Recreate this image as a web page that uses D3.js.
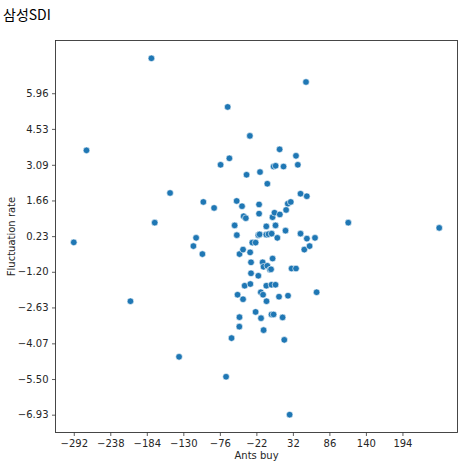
<!DOCTYPE html>
<html>
<head>
<meta charset="utf-8">
<script src="https://cdn.jsdelivr.net/npm/d3@7"></script>
<style>
  html, body { margin: 0; padding: 0; background: #fff; }
  svg { display: block; }
</style>
</head>
<body>
<svg id="chart" width="472" height="465"></svg>
<script>
const title = "삼성SDI";
const xLabel = "Ants buy";
const yLabel = "Fluctuation rate";

// Ants buy (x) values
const antsBuy = [
  -177.2, 51.4, -64.4, -31.6, -273.2, 12.4, 36.6, -61.9, -74.9, 3.5,
  6.5, 18.2, 39.3, -16.6, -36.5, -5.8, -149.6, 43.3, 52.6, -100.4,
  -51.1, -84.5, -43.2, -18.0, 24.5, 28.9, -40.8, -37.6, -18.0, 1.9,
  4.8, 12.7, 22.0, -172.3, -54.1, -7.3, 6.3, 113.9, 248.4, -50.9,
  -19.1, -17.2, -7.3, -4.0, 0.6, 21.1, 43.3, 9.0, 52.7, 64.7,
  -111.1, -292.0, -115.1, -28.0, -23.1, 48.9, 56.7, -101.8, -46.9, -41.7,
  -31.2, 2.0, -29.9, -12.7, -11.4, -5.8, -1.8, -0.3, 30.1, 36.6,
  -29.9, -19.1, -39.3, -30.9, -7.3, 0.4, 6.3, -49.8, -41.7, -15.4,
  -12.1, -7.0, 11.5, 24.8, 67.1, -208.2, -23.1, -15.1, 0.4, 3.5,
  16.8, -47.0, -47.2, -11.3, -58.7, 19.3, -136.3, -66.8, 27.2
];

// Fluctuation rate (y) values
const fluctuation = [
  7.36, 6.41, 5.41, 4.25, 3.67, 3.71, 3.45, 3.35, 3.09, 3.02,
  3.05, 3.02, 3.09, 2.80, 2.69, 2.33, 1.96, 1.93, 1.83, 1.60,
  1.64, 1.36, 1.43, 1.50, 1.53, 1.60, 1.03, 0.95, 1.13, 0.99,
  1.17, 1.10, 1.28, 0.77, 0.66, 0.62, 0.66, 0.77, 0.56, 0.27,
  0.27, 0.30, 0.29, 0.31, 0.33, 0.45, 0.33, 0.16, 0.13, 0.16,
  0.16, -0.02, -0.17, -0.03, -0.03, -0.31, -0.17, -0.49, -0.49, -0.31,
  -0.42, -0.67, -0.82, -0.82, -1.00, -0.96, -1.12, -1.10, -1.07, -1.07,
  -1.26, -1.36, -1.76, -1.69, -1.76, -1.72, -1.72, -2.12, -2.30, -2.02,
  -2.12, -2.38, -2.20, -2.16, -2.02, -2.38, -2.81, -3.06, -2.91, -2.91,
  -3.03, -3.02, -3.40, -3.54, -3.86, -3.93, -4.61, -5.41, -6.93
];

const xTicks = [-292, -238, -184, -130, -76, -22, 32, 86, 140, 194];
const yTicks = [5.96, 4.53, 3.09, 1.66, 0.23, -1.20, -2.63, -4.07, -5.50, -6.93];

const data = antsBuy.map((x, i) => ({ x, y: fluctuation[i] }));

const svg = d3.select("#chart");
const W = 472, H = 465;
const m = { left: 55.5, top: 40.5, right: 472 - 457.5, bottom: 465 - 432.5 };

const xExt = d3.extent(antsBuy);
const yExt = d3.extent(fluctuation);
const xPad = (xExt[1] - xExt[0]) * 0.05;
const yPad = (yExt[1] - yExt[0]) * 0.05;

const x = d3.scaleLinear()
  .domain([xExt[0] - xPad, xExt[1] + xPad])
  .range([m.left, W - m.right]);
const y = d3.scaleLinear()
  .domain([yExt[0] - yPad, yExt[1] + yPad])
  .range([H - m.bottom, m.top]);

const fmtMinus = s => String(s).replace("-", "\u2212");

// Title
svg.append("text")
  .attr("x", 3)
  .attr("y", 20)
  .attr("font-family", "'Noto Sans CJK KR', 'Noto Sans', sans-serif")
  .attr("font-size", 14)
  .attr("fill", "#000")
  .text(title);

// X axis
const xAxis = svg.append("g")
  .attr("transform", `translate(0,${H - m.bottom})`)
  .call(d3.axisBottom(x).tickValues(xTicks).tickSize(3.5).tickPadding(3.5)
    .tickFormat(d => fmtMinus(d)));
xAxis.select(".domain").remove();
xAxis.selectAll("text").attr("font-family", "'DejaVu Sans', sans-serif").attr("font-size", 10).attr("fill", "#262626");
xAxis.selectAll("line").attr("stroke", "#333").attr("stroke-width", 0.8);

// Y axis
const yAxis = svg.append("g")
  .attr("transform", `translate(${m.left},0)`)
  .call(d3.axisLeft(y).tickValues(yTicks).tickSize(3.5).tickPadding(3.5)
    .tickFormat(d => fmtMinus(d.toFixed(2))));
yAxis.select(".domain").remove();
yAxis.selectAll("text").attr("font-family", "'DejaVu Sans', sans-serif").attr("font-size", 10).attr("fill", "#262626");
yAxis.selectAll("line").attr("stroke", "#333").attr("stroke-width", 0.8);

// Frame
svg.append("rect")
  .attr("x", m.left)
  .attr("y", m.top)
  .attr("width", W - m.left - m.right)
  .attr("height", H - m.top - m.bottom)
  .attr("fill", "none")
  .attr("stroke", "#333")
  .attr("stroke-width", 0.9);

// Axis labels
svg.append("text")
  .attr("x", (m.left + W - m.right) / 2)
  .attr("y", 459)
  .attr("text-anchor", "middle")
  .attr("font-family", "'DejaVu Sans', sans-serif")
  .attr("font-size", 10)
  .attr("fill", "#262626")
  .text(xLabel);

svg.append("text")
  .attr("transform", `translate(15,${(m.top + H - m.bottom) / 2}) rotate(-90)`)
  .attr("text-anchor", "middle")
  .attr("font-family", "'DejaVu Sans', sans-serif")
  .attr("font-size", 10)
  .attr("fill", "#262626")
  .text(yLabel);

// Points
svg.append("g")
  .selectAll("circle")
  .data(data)
  .join("circle")
  .attr("cx", d => x(d.x))
  .attr("cy", d => y(d.y))
  .attr("r", 3.3)
  .attr("fill", "#1f77b4")
  .attr("stroke", "#fff")
  .attr("stroke-width", 0.6);
</script>
</body>
</html>
